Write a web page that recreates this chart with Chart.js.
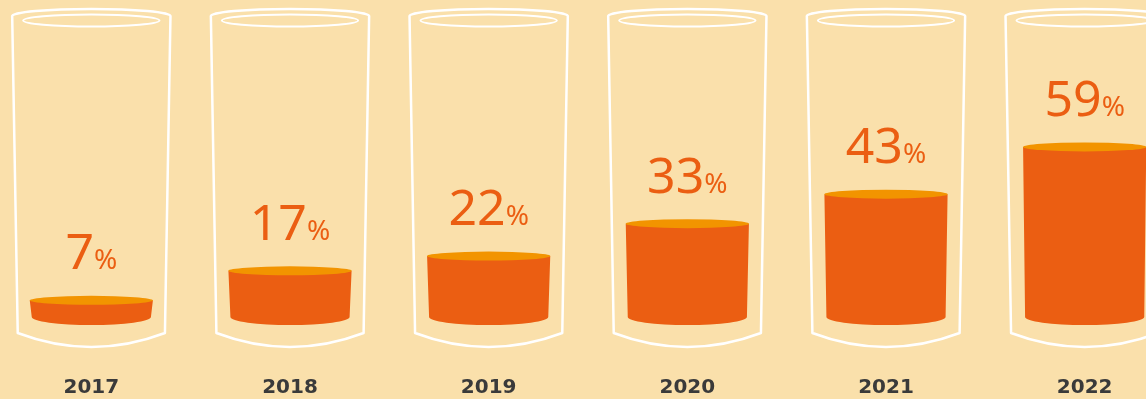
<!DOCTYPE html>
<html>
<head>
<meta charset="utf-8">
<script src="https://cdn.jsdelivr.net/npm/chart.js@4.4.1/dist/chart.umd.min.js"></script>
<style>
  html, body { margin: 0; padding: 0; background: #fae0ab; overflow: hidden; }
  #wrap { position: absolute; left: -8px; top: 0; width: 1192px; height: 399px; }
</style>
</head>
<body>
<div id="wrap"><canvas id="vasosChart"></canvas></div>
<script>
// Datos
const anios = ['2017', '2018', '2019', '2020', '2021', '2022'];
const porcentajes = [7, 17, 22, 33, 43, 59];

const colorLiquido = '#eb5e12';
const colorSuperficie = '#f29400';

// Dibuja los vasos y el líquido con las posiciones de las barras
const vasosPlugin = {
    id: 'vasos',
    afterDatasetsDraw(chart) {
        const ctx = chart.ctx;
        const meta = chart.getDatasetMeta(0);
        meta.data.forEach(function(bar, i) {
            const cx = bar.x;
            const w = bar.width;
            const half = w / 2;

            // vaso
            const gTop = half * 1.285;
            const gBot = half * 1.195;
            ctx.save();
            ctx.strokeStyle = '#ffffff';
            ctx.lineWidth = 2.5;
            ctx.lineJoin = 'round';
            ctx.beginPath();
            ctx.moveTo(cx - gTop, 16);
            ctx.lineTo(cx - gBot, 333);
            ctx.quadraticCurveTo(cx, 361, cx + gBot, 333);
            ctx.lineTo(cx + gTop, 16);
            ctx.stroke();
            ctx.beginPath();
            ctx.ellipse(cx, 16, gTop, 7, 0, Math.PI, 2 * Math.PI);
            ctx.stroke();
            ctx.lineWidth = 2;
            ctx.beginPath();
            ctx.ellipse(cx, 20.5, gTop - 11, 6, 0, 0, 2 * Math.PI);
            ctx.stroke();

            // líquido
            const top = bar.y;
            const bottom = bar.base - 4;
            ctx.fillStyle = colorLiquido;
            ctx.beginPath();
            ctx.moveTo(cx - half, top);
            ctx.lineTo(cx - half + 2, bottom);
            ctx.ellipse(cx, bottom, half - 2, 8, 0, Math.PI, 0, true);
            ctx.lineTo(cx + half, top);
            ctx.closePath();
            ctx.fill();
            ctx.fillStyle = colorSuperficie;
            ctx.beginPath();
            ctx.ellipse(cx, top, half, 4.5, 0, 0, 2 * Math.PI);
            ctx.fill();

            // etiqueta
            const num = String(porcentajes[i]);
            ctx.fillStyle = colorLiquido;
            ctx.textBaseline = 'alphabetic';
            ctx.font = '400 50px "Noto Sans"';
            const wNum = ctx.measureText(num).width;
            ctx.font = '400 28px "Noto Sans"';
            const wPct = ctx.measureText('%').width;
            const x0 = cx - (wNum + wPct) / 2;
            const yb = top - 31;
            ctx.font = '400 50px "Noto Sans"';
            ctx.textAlign = 'left';
            ctx.fillText(num, x0, yb);
            ctx.font = '400 28px "Noto Sans"';
            ctx.fillText('%', x0 + wNum, yb);
            ctx.restore();
        });
    }
};

const ctx = document.getElementById('vasosChart').getContext('2d');
const vasosChart = new Chart(ctx, {
    type: 'bar',
    data: {
        labels: anios,
        datasets: [{
            label: 'Porcentaje',
            data: porcentajes,
            backgroundColor: 'rgba(0,0,0,0)',
            borderWidth: 0,
            barPercentage: 0.62,
            categoryPercentage: 1
        }]
    },
    options: {
        responsive: true,
        maintainAspectRatio: false,
        animation: false,
        layout: { padding: 0 },
        plugins: {
            legend: { display: false },
            tooltip: { enabled: false }
        },
        scales: {
            x: {
                grid: { display: false, drawTicks: false },
                border: { display: false },
                ticks: {
                    color: '#3a3a3a',
                    padding: 55,
                    font: { family: '"DejaVu Sans"', size: 20, weight: 'bold' }
                },
                afterFit(scale) { scale.height = 78; }
            },
            y: {
                display: false,
                min: 0,
                max: 108.8
            }
        }
    },
    plugins: [vasosPlugin]
});
</script>
</body>
</html>
